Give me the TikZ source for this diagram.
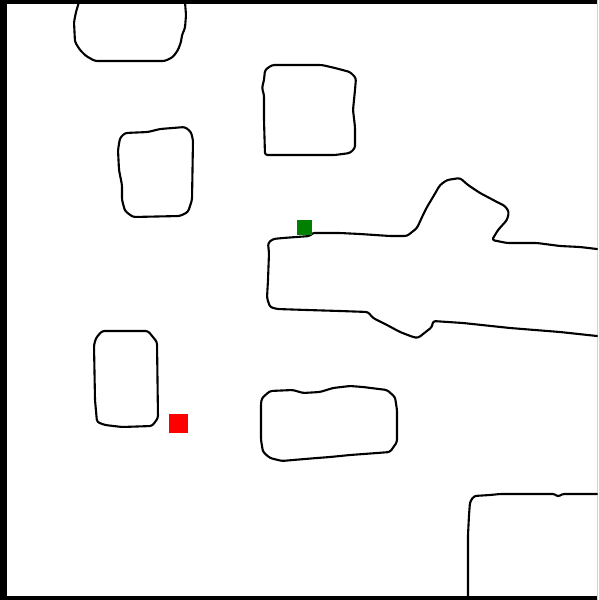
\documentclass[tikz,border=0pt]{standalone}
\usepackage{tikz}
\usetikzlibrary{positioning}

\begin{document}
\begin{tikzpicture}[x=1pt, y=-1pt]
	\tikzset{
		obstacle/.style={line width=2.1pt, line join=round, line cap=round, rounded corners=2.5pt},
		startcell/.style={rectangle, fill=red, minimum size=19pt, inner sep=0pt},
		goalcell/.style={rectangle, fill=green!50!black, minimum size=15pt, inner sep=0pt}
	}
	\useasboundingbox (0,0) rectangle (598,600);
	
	% 边框
	\fill[black] (0,0) rectangle (7,600);
	\fill[black] (0,0) rectangle (598,4);
	\fill[black] (0,596) rectangle (598,600);
	\draw[gray!35, line width=1pt] (597.5,0) -- (597.5,600);
	
	% 障碍物 1 (上左)
	\draw[obstacle] (79,2) -- (76,12) -- (74,22) -- (75,42) -- (80,50) -- (86,56) -- (95,61)
		-- (165,61) -- (173,57) -- (178,50) -- (181,42) -- (182,35) -- (185,28) -- (186,15) -- (185,2);
	
	% 障碍物 2
	\draw[obstacle] (272,65) -- (322,65) -- (335,68) -- (350,72) -- (356,78) -- (355,90) -- (353,110)
		-- (355,127) -- (355,148) -- (350,153) -- (335,155) -- (265,155) -- (264,120) -- (264,95)
		-- (262,88) -- (264,80) -- (265,70) -- cycle;
	
	% 障碍物 3
	\draw[obstacle] (125,133) -- (148,132) -- (160,129) -- (185,127) -- (191,132) -- (193,140)
		-- (192,200) -- (188,212) -- (180,216) -- (133,217) -- (125,211) -- (122,200) -- (122,185)
		-- (119,170) -- (118,150) -- (120,138) -- cycle;
	
	% 障碍物 4
	\draw[obstacle] (102,331) -- (148,331) -- (157,342) -- (158,418) -- (152,426) -- (122,427)
		-- (105,425) -- (97,422) -- (95,400) -- (94,345) -- (96,338) -- cycle;
	
	% 障碍物 5
	\draw[obstacle] (270,391) -- (293,390) -- (303,393) -- (320,392) -- (333,388) -- (350,386)
		-- (363,387) -- (387,390) -- (395,397) -- (397,410) -- (397,442) -- (390,452) -- (377,453)
		-- (350,455) -- (330,457) -- (317,458) -- (293,460) -- (282,461) -- (270,458) -- (263,452)
		-- (261,440) -- (261,403) -- (262,398) -- cycle;
	
	% 障碍物 6 (下右)
	\draw[obstacle] (468,598) -- (468,535) -- (469,515) -- (470,502) -- (474,496) -- (490,495)
		-- (500,494) -- (555,494) -- (558,497) -- (562,494) -- (597,494);
	
	% 障碍物 7 (大)
	\draw[obstacle] (597,249) -- (580,247) -- (560,246) -- (537,243) -- (507,243) -- (492,240)
		-- (498,230) -- (507,220) -- (509,212) -- (505,206) -- (497,202) -- (480,193) -- (468,185)
		-- (460,178) -- (447,180) -- (440,185) -- (433,197) -- (427,207) -- (423,215) -- (417,228)
		-- (407,236) -- (390,236) -- (360,234) -- (340,233) -- (312,233) -- (310,236) -- (283,238)
		-- (273,239) -- (268,243) -- (269,253) -- (268,280) -- (267,298) -- (270,307) -- (277,309)
		-- (307,310) -- (340,311) -- (368,312) -- (373,318) -- (387,325) -- (400,332) -- (413,337)
		-- (418,338) -- (432,327) -- (433,321) -- (463,323) -- (510,328) -- (560,332) -- (597,336);
	
	% 起点和终点
	\node[startcell] (start) at (178.5,423.5) {};
	\node[goalcell] (goal) at (304,227.5) {};
\end{tikzpicture}
\end{document}
